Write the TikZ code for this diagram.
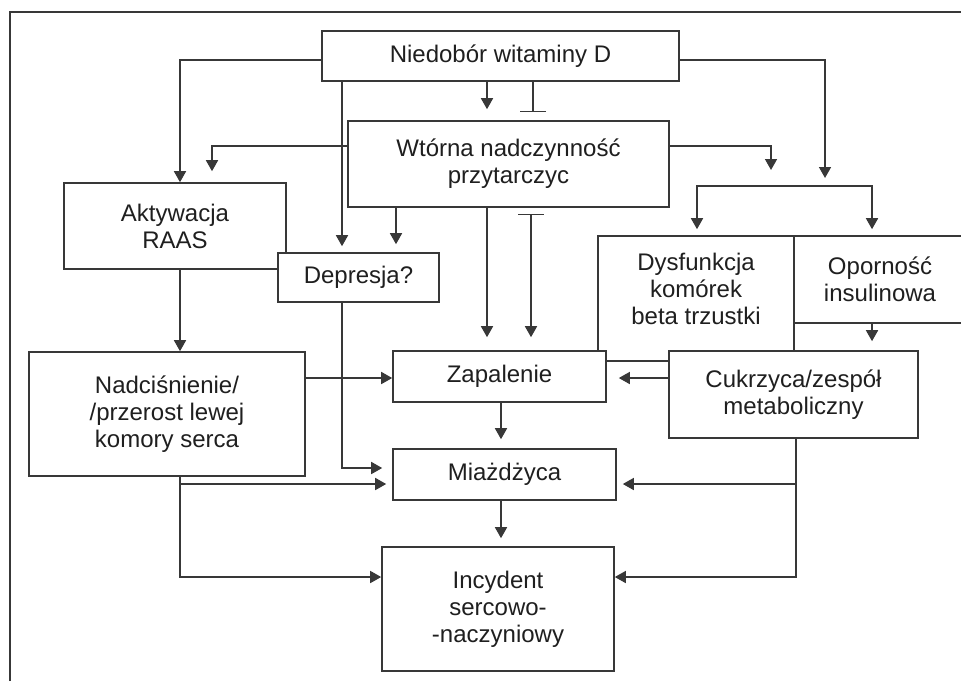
\documentclass[tikz,border=0pt]{standalone}
\usepackage{fontspec}
\setmainfont{Liberation Sans}
\usetikzlibrary{arrows.meta}
\definecolor{linia}{gray}{0.22}
\definecolor{tekst}{gray}{0.12}

\begin{document}
\begin{tikzpicture}[x=0.5pt, y=-0.5pt,
    box/.style={draw=linia, line width=0.8pt, fill=white, text=tekst, align=center, inner sep=0pt, font={\fontsize{12}{13.5}\selectfont}},
    arr/.style={draw=linia, line width=0.8pt, -{Triangle[width=6pt,length=5.5pt]}},
    hamuje/.style={draw=linia, line width=0.8pt, -{Bar[width=13pt]}},
    hamujearr/.style={draw=linia, line width=0.8pt, {Bar[width=13pt]}-{Triangle[width=6pt,length=5.5pt]}}]
    \useasboundingbox (0,0) rectangle (961,681);
    \clip (0,0) rectangle (961,681);

    % ramka
    \draw[draw=linia, line width=0.8pt] (10,681) -- (10,12) -- (961,12);

    \node[box, minimum width=178.5pt, minimum height=25pt] (nied) at (500.5,56) {Niedobór witaminy D};
    \node[box, minimum width=160.5pt, minimum height=43pt] (wtor) at (508.5,164) {Wtórna nadczynność\\przytarczyc};
    \node[box, minimum width=111pt, minimum height=43pt] (akt) at (175,226) {Aktywacja\\RAAS};
    \node[box, minimum width=80.5pt, minimum height=24.5pt] (dep) at (358.5,277.5) {Depresja?};
    \node[box, minimum width=138pt, minimum height=62pt] (nadc) at (167,414) {Nadciśnienie/\\/przerost lewej\\komory serca};
    \node[box, minimum width=98pt, minimum height=62.5pt, text depth=9.5pt] (dys) at (696,298.5) {Dysfunkcja\\komórek\\beta trzustki};
    \node[box, minimum width=86pt, minimum height=43.5pt] (opo) at (880,279.5) {Oporność\\insulinowa};
    \node[box, minimum width=106.5pt, minimum height=25.5pt] (zap) at (499.5,376.5) {Zapalenie};
    \node[box, minimum width=124.5pt, minimum height=43.5pt] (cuk) at (793.5,394.5) {Cukrzyca/zespół\\metaboliczny};
    \node[box, minimum width=111.5pt, minimum height=25.5pt] (mia) at (504.5,474.5) {Miażdżyca};
    \node[box, minimum width=116pt, minimum height=62pt] (inc) at (498,609) {Incydent\\sercowo-\\-naczyniowy};

    \coordinate (wtorP) at (771,170);
    \coordinate (niedP) at (825,178);
    \coordinate (metab) at (784.5,186);

    % od niedoboru
    \draw[arr] (nied.west |- 0,60) -| (180,0 |- akt.north);
    \draw[arr, shorten >=3pt] (342,0 |- nied.south) -- (342,0 |- dep.north);
    \draw[arr, shorten >=5.5pt] (487,0 |- nied.south) -- (487,0 |- wtor.north);
    \draw[hamuje, shorten >=4pt] (533,0 |- nied.south) -- (533,0 |- wtor.north);
    \draw[arr] (nied.east |- 0,60) -| (niedP);

    % od nadczynnosci
    \draw[arr, shorten >=5.5pt] (wtor.west |- 0,146) -| (212,0 |- akt.north);
    \draw[arr] (wtor.east |- 0,146) -| (wtorP);
    \draw[arr, shorten >=4pt] (396,0 |- wtor.south) -- (396,0 |- dep.north);
    \draw[arr, shorten >=6.5pt] (487,0 |- wtor.south) -- (487,0 |- zap.north);
    \draw[hamujearr, shorten <=3pt, shorten >=6.5pt] (531,0 |- wtor.south) -- (531,0 |- zap.north);

    \draw[arr, shorten >=3pt] (metab) -| (697,0 |- dys.north);
    \draw[arr, shorten >=3pt] (metab) -| (872,0 |- opo.north);

    \draw[arr] (180,0 |- akt.south) -- (180,0 |- nadc.north);
    \draw[arr, shorten >=5pt] (342,0 |- dep.south) |- (mia.west |- 0,468);
    \draw[arr] (nadc.east |- 0,378) -- (zap.west |- 0,378);
    \draw[arr, shorten >=3pt] (180,0 |- nadc.south) |- (mia.west |- 0,484);
    \draw[arr] (180,0 |- nadc.south) |- (inc.west |- 0,577);
    \draw[arr, shorten >=4.5pt] (501,0 |- zap.south) -- (501,0 |- mia.north);
    \draw[arr, shorten >=4pt] (501,0 |- mia.south) -- (501,0 |- inc.north);

    % od cukrzycy
    \draw[arr, shorten >=6pt] (cuk.west |- 0,378) -- (zap.east |- 0,378);
    \draw[arr, shorten >=3pt] (796,0 |- cuk.south) |- (mia.east |- 0,484);
    \draw[arr] (796,0 |- cuk.south) |- (inc.east |- 0,577);
    \draw[arr, shorten >=4.5pt] (872,0 |- opo.south) -- (872,0 |- cuk.north);
\end{tikzpicture}
\end{document}
